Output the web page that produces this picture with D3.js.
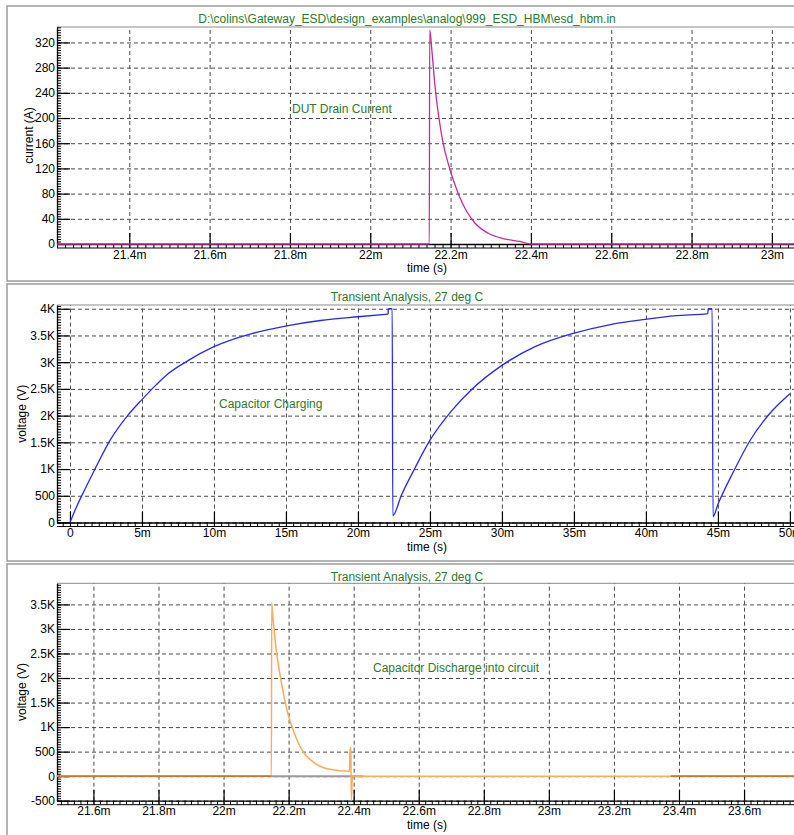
<!DOCTYPE html>
<html lang="en">
<head>
<meta charset="UTF-8">
<title>esd_hbm</title>
<style>
	*{margin:0;padding:0;}
	body{background:#fff;overflow:hidden;}
</style>
</head>
<body>
<div id="container"></div>
<script src="https://cdn.jsdelivr.net/npm/d3@7"></script>
<script>
// panel 1 - DUT drain current (time in ms, current in A)
var currentTime = [21.22, 22.147, 22.148, 22.154, 22.161, 22.171, 22.182, 22.194, 22.2025, 22.211, 22.223, 22.24, 22.261, 22.294, 22.328, 22.373, 22.40, 23.07]
var currentAmp  = [0, 0, 340, 303, 252, 200, 158, 128, 110, 94, 74, 52, 33, 17, 9, 4, 0, 0]
var currentTicks = [0, 40, 80, 120, 160, 200, 240, 280, 320]
var currentTickLabels = ['0', '40', '80', '120', '160', '200', '240', '280', '320']
var time1Ticks = [21.4, 21.6, 21.8, 22, 22.2, 22.4, 22.6, 22.8, 23]
var time1TickLabels = ['21.4m', '21.6m', '21.8m', '22m', '22.2m', '22.4m', '22.6m', '22.8m', '23m']

// panel 2 - capacitor charging (time in ms, voltage in V)
var chargeTime = [0, 0.5, 1.0, 1.74, 2.79, 4.0, 5.0, 6.0, 6.75, 8.14, 10.0, 12.56, 15.05, 17.4, 20.0, 22.1, 22.1, 22.38, 22.42,
	23.03, 23.96, 25.0, 26.5, 27.9, 30.0, 32.3, 34.96, 37.45, 39.94, 42.1, 44.3, 44.32, 44.6, 44.66,
	45.0, 46.06, 47.2, 48.6, 50.0]
var chargeVolt = [0, 320, 600, 1000, 1540, 2000, 2300, 2580, 2770, 3020, 3290, 3530, 3680, 3780, 3850, 3900, 4000, 4000, 130,
	520, 1020, 1540, 2090, 2490, 2940, 3290, 3540, 3700, 3800, 3870, 3910, 4000, 4000, 110,
	340, 940, 1520, 2040, 2410]
var chargeTicks = [0, 500, 1000, 1500, 2000, 2500, 3000, 3500, 4000]
var chargeTickLabels = ['0', '500', '1K', '1.5K', '2K', '2.5K', '3K', '3.5K', '4K']
var time2Ticks = [0, 5, 10, 15, 20, 25, 30, 35, 40, 45, 50]
var time2TickLabels = ['0', '5m', '10m', '15m', '20m', '25m', '30m', '35m', '40m', '45m', '50m']

// panel 3 - capacitor discharge into circuit (time in ms, voltage in V)
var dischargeTime = [21.488, 22.147, 22.148, 22.1506, 22.1608, 22.1762, 22.197, 22.2173, 22.2432, 22.279, 22.3306, 22.387, 22.389, 22.391, 22.393, 22.396, 22.42, 23.772]
var dischargeVolt = [0, 0, 3530, 3320, 2640, 1965, 1290, 880, 510, 272, 136, 102, 580, 560, -500, 0, 0, 0]
// second trace, only visible where it is not under the first one
var nodeTime = [21.488, 22.148, 22.148, 23.375, 23.375, 23.772]
var nodeVolt = [0, 0, null, null, 0, 0]
var baseTime = [22.148, 22.43]
var baseVolt = [0, 0]
var volt3Ticks = [-500, 0, 500, 1000, 1500, 2000, 2500, 3000, 3500]
var volt3TickLabels = ['-500', '0', '500', '1K', '1.5K', '2K', '2.5K', '3K', '3.5K']
var time3Ticks = [21.6, 21.8, 22, 22.2, 22.4, 22.6, 22.8, 23, 23.2, 23.4, 23.6]
var time3TickLabels = ['21.6m', '21.8m', '22m', '22.2m', '22.4m', '22.6m', '22.8m', '23m', '23.2m', '23.4m', '23.6m']

var W = 794, H = 835
var FONT = '"Liberation Sans", Arial, Helvetica, sans-serif'
var GREEN = '#2b7a2b'
var left = 57, right = 800

var svg = d3.select('#container').append('svg').attr('width', W).attr('height', H)

// split a trace where time repeats (vertical jumps), so the smooth curve
// is only used on runs with increasing time
function splitRuns(pts) {
	var runs = [], jumps = [], cur = []
	pts.forEach(function (d) {
		if (d[1] === null) { if (cur.length) runs.push(cur); cur = []; return }
		var prev = cur[cur.length - 1]
		if (prev && d[0] <= prev[0]) {
			runs.push(cur); jumps.push([prev, d]); cur = [d]
		} else cur.push(d)
	})
	if (cur.length) runs.push(cur)
	return {runs: runs, jumps: jumps}
}

function drawPanel(p) {
	var g = svg.append('g')
	g.append('rect')
		.attr('x', 7).attr('y', p.top)
		.attr('width', 820).attr('height', p.bottom - p.top)
		.attr('fill', '#fff').attr('stroke', '#9c9c9c').attr('stroke-width', 1.5)

	var x = d3.scaleLinear().domain(p.xDomain).range([left, right])
	var y = d3.scaleLinear().domain(p.yDomain).range([p.plotBottom, p.plotTop])
	var ph = p.plotBottom - p.plotTop

	// top edge of plot area
	g.append('line').attr('x1', left).attr('x2', right + 20)
		.attr('y1', p.plotTop).attr('y2', p.plotTop)
		.attr('stroke', '#8a8a8a').attr('stroke-width', 1)

	// dashed grid
	var gx = g.append('g').attr('transform', 'translate(0,' + p.plotBottom + ')')
		.call(d3.axisBottom(x).tickValues(p.xTicks).tickSize(-ph).tickFormat(''))
	var gy = g.append('g').attr('transform', 'translate(' + left + ',0)')
		.call(d3.axisLeft(y).tickValues(p.yTicks).tickSize(-(right + 20 - left)).tickFormat(''))
	;[gx, gy].forEach(function (a) {
		a.select('.domain').remove()
		a.selectAll('line').attr('stroke', '#4a4a4a').attr('stroke-dasharray', '4,3')
	})

	// minor ticks (ruler look)
	var xMinor = d3.range(Math.ceil(p.xDomain[0] / p.xMinor) * p.xMinor, p.xDomain[1], p.xMinor)
	var yMinor = d3.range(Math.ceil(p.yDomain[0] / p.yMinor) * p.yMinor, p.yDomain[1], p.yMinor)
	var mx = g.append('g').attr('transform', 'translate(0,' + p.plotBottom + ')')
		.call(d3.axisBottom(x).tickValues(xMinor).tickSizeInner(4).tickSizeOuter(0).tickFormat(''))
	var my = g.append('g').attr('transform', 'translate(' + left + ',0)')
		.call(d3.axisLeft(y).tickValues(yMinor).tickSizeInner(-4).tickSizeOuter(0).tickFormat(''))
	;[mx, my].forEach(function (a) {
		a.selectAll('line').attr('stroke', '#000')
		a.select('.domain').attr('stroke', '#000').attr('stroke-width', 1.3)
	})
	g.append('line').attr('x1', left).attr('x2', right + 20)
		.attr('y1', p.plotBottom + 4).attr('y2', p.plotBottom + 4)
		.attr('stroke', '#000')

	// major ticks + labels
	var ax = g.append('g').attr('transform', 'translate(0,' + p.plotBottom + ')')
		.call(d3.axisBottom(x).tickValues(p.xTicks)
			.tickFormat(function (d, i) { return p.xLabels[i] })
			.tickSizeInner(-11).tickSizeOuter(0).tickPadding(6))
	var ay = g.append('g').attr('transform', 'translate(' + left + ',0)')
		.call(d3.axisLeft(y).tickValues(p.yTicks)
			.tickFormat(function (d, i) { return p.yLabels[i] })
			.tickSizeInner(-13).tickSizeOuter(0).tickPadding(2))
	;[ax, ay].forEach(function (a) {
		a.select('.domain').remove()
		a.attr('font-size', 12).attr('font-family', FONT)
		a.selectAll('line').attr('stroke', '#000').attr('stroke-width', 1.2)
		a.selectAll('text').attr('fill', '#000')
	})
	ax.selectAll('.tick').append('line').attr('y1', 0).attr('y2', 4).attr('stroke', '#000')

	// texts
	g.append('text').text(p.title)
		.attr('x', 407).attr('y', p.top + 17)
		.attr('text-anchor', 'middle').attr('fill', GREEN)
		.attr('font-family', FONT).attr('font-size', 12)
	g.append('text').text('time (s)')
		.attr('x', 407).attr('y', p.plotBottom + 28)
		.attr('font-family', FONT).attr('font-size', 12).attr('fill', '#000')
	g.append('text').text(p.yTitle)
		.attr('transform', 'translate(' + (p.yTitleX + 4) + ',' + (p.plotTop + ph / 2) + ') rotate(-90)')
		.attr('text-anchor', 'middle')
		.attr('font-family', FONT).attr('font-size', 12).attr('fill', '#000')
	g.append('text').text(p.note)
		.attr('x', p.noteX).attr('y', p.noteY + 4)
		.attr('font-family', FONT).attr('font-size', 12).attr('fill', GREEN)

	// traces
	var smooth = d3.line().curve(d3.curveMonotoneX)
		.x(function (d) { return x(d[0]) })
		.y(function (d) { return y(d[1]) })
	var straight = d3.line()
		.x(function (d) { return x(d[0]) })
		.y(function (d) { return y(d[1]) })
	p.traces.forEach(function (t) {
		var parts = splitRuns(d3.zip(t.x, t.y))
		var tg = g.append('g').attr('fill', 'none')
			.attr('stroke', t.color).attr('stroke-width', t.width || 1.3)
		tg.selectAll('path.run').data(parts.runs).enter().append('path')
			.attr('class', 'run').attr('d', smooth)
		tg.selectAll('path.jump').data(parts.jumps).enter().append('path')
			.attr('class', 'jump').attr('d', straight)
	})
}

drawPanel({
	top: 6, bottom: 281, plotTop: 27, plotBottom: 244,
	xDomain: [21.22, 23.07], yDomain: [0, 344.5],
	xTicks: time1Ticks, xLabels: time1TickLabels, xMinor: 0.02,
	yTicks: currentTicks, yLabels: currentTickLabels, yMinor: 4,
	title: 'D:\\colins\\Gateway_ESD\\design_examples\\analog\\999_ESD_HBM\\esd_hbm.in',
	yTitle: 'current (A)', yTitleX: 29,
	note: 'DUT Drain Current', noteX: 292, noteY: 109,
	traces: [{x: currentTime, y: currentAmp, color: '#c42a9c'}]
})

drawPanel({
	top: 284, bottom: 561, plotTop: 305, plotBottom: 522.5,
	xDomain: [-0.9, 50.7], yDomain: [0, 4070],
	xTicks: time2Ticks, xLabels: time2TickLabels, xMinor: 0.5,
	yTicks: chargeTicks, yLabels: chargeTickLabels, yMinor: 50,
	title: 'Transient Analysis, 27 deg C',
	yTitle: 'voltage (V)', yTitleX: 22,
	note: 'Capacitor Charging', noteX: 219, noteY: 404,
	traces: [{x: chargeTime, y: chargeVolt, color: '#2828ee'}]
})

drawPanel({
	top: 564, bottom: 845, plotTop: 583.3, plotBottom: 800.7,
	xDomain: [21.488, 23.772], yDomain: [-500, 3930],
	xTicks: time3Ticks, xLabels: time3TickLabels, xMinor: 0.02,
	yTicks: volt3Ticks, yLabels: volt3TickLabels, yMinor: 50,
	title: 'Transient Analysis, 27 deg C',
	yTitle: 'voltage (V)', yTitleX: 22,
	note: 'Capacitor Discharge into circuit', noteX: 373, noteY: 668,
	traces: [
		{x: baseTime, y: baseVolt, color: '#9a9a9a', width: 2},
		{x: dischargeTime, y: dischargeVolt, color: '#fdaa5c', width: 1.5},
		{x: nodeTime, y: nodeVolt, color: '#cf7428', width: 1.8}
	]
})
</script>
</body>
</html>
